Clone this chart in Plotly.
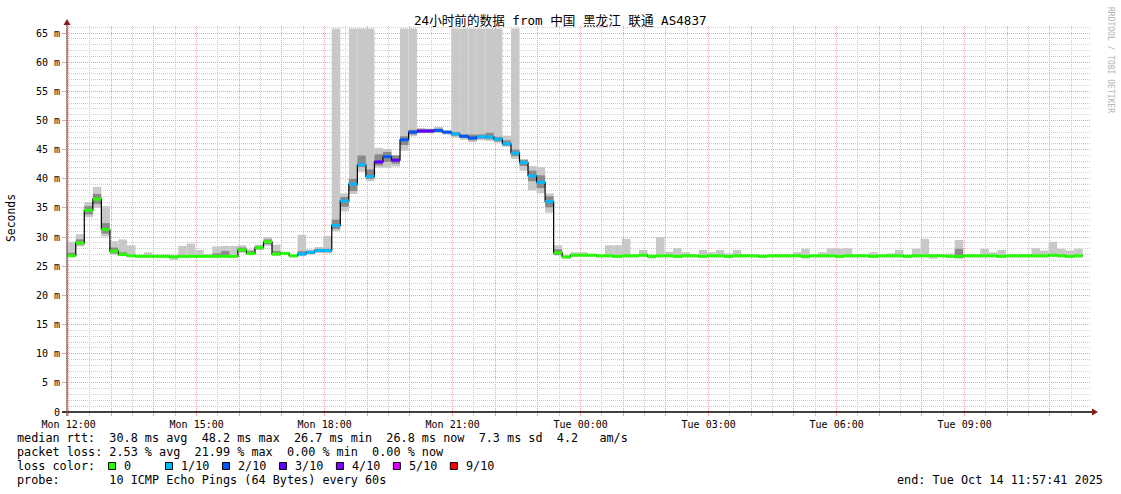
import pandas as pd
import plotly.graph_objects as go

# ---- data (12 min bins) ----
bin_start = pd.date_range("2025-10-13 11:58:00", periods=119, freq="12min")

median = [
    26.8, 29.0, 34.6, 36.5, 31.3, 27.6, 27.0, 26.8, 26.7, 26.7,
    26.7, 26.7, 26.6, 26.7, 26.7, 26.7, 26.7, 26.7, 26.7, 26.7,
    27.8, 27.2, 28.2, 29.2, 27.1, 27.2, 26.8, 27.1, 27.4, 27.7,
    27.7, 32.0, 36.2, 39.1, 42.4, 40.4, 42.9, 43.8, 43.2, 46.7,
    48.0, 48.2, 48.2, 48.3, 48.0, 47.7, 47.3, 47.0, 47.2, 47.2,
    46.8, 46.0, 44.4, 42.8, 40.5, 39.4, 36.1, 27.3, 26.6, 26.9,
    26.9, 26.9, 26.8, 26.8, 26.7, 26.8, 26.8, 26.9, 26.7, 26.8,
    26.8, 26.7, 26.8, 26.8, 26.7, 26.8, 26.8, 26.7, 26.8, 26.8,
    26.8, 26.7, 26.8, 26.8, 26.8, 26.8, 26.7, 26.8, 26.8, 26.8,
    26.7, 26.8, 26.8, 26.8, 26.7, 26.8, 26.8, 26.8, 26.7, 26.8,
    26.8, 26.8, 26.8, 26.7, 26.7, 26.8, 26.8, 26.8, 26.8, 26.7,
    26.8, 26.8, 26.8, 26.8, 26.8, 26.9, 26.8, 26.7, 26.8,
]

smoke_hi = [
    29.2, 30.5, 36.0, 38.6, 35.3, 29.3, 29.6, 28.6, 26.9, 27.4,
    27.0, 27.0, 27.0, 28.5, 28.9, 27.8, 27.1, 28.4, 28.5, 28.5,
    28.6, 27.9, 28.7, 30.0, 28.7, 27.5, 27.0, 30.4, 27.9, 28.3,
    30.2, 65.8, 37.5, 65.8, 65.8, 65.8, 45.3, 45.1, 44.1, 65.8,
    65.8, 48.7, 48.6, 48.9, 48.3, 65.8, 65.8, 65.8, 65.8, 65.8,
    65.8, 47.4, 65.8, 43.4, 42.2, 42.0, 37.5, 28.6, 26.9, 27.4,
    27.4, 27.1, 27.0, 28.6, 28.6, 29.7, 27.0, 27.8, 26.9, 30.0,
    27.5, 28.1, 27.4, 27.0, 27.8, 27.4, 27.8, 27.2, 27.8, 27.0,
    27.0, 27.0, 26.9, 27.0, 27.0, 27.4, 28.0, 27.0, 27.4, 28.1,
    28.0, 28.1, 27.0, 27.0, 27.4, 27.0, 27.2, 27.8, 27.0, 28.0,
    29.7, 27.0, 27.0, 27.2, 29.5, 26.9, 27.0, 28.0, 27.4, 27.8,
    27.0, 27.0, 27.1, 28.1, 27.7, 29.2, 28.0, 27.7, 28.0,
]

smoke_lo = [
    26.6, 28.4, 33.4, 35.0, 30.1, 27.0, 26.8, 26.6, 26.5, 26.5,
    26.5, 26.5, 26.1, 26.5, 26.5, 26.5, 26.5, 26.5, 26.5, 26.5,
    27.3, 26.9, 27.8, 28.5, 26.8, 26.9, 26.5, 26.7, 27.0, 27.3,
    27.2, 31.0, 34.4, 37.4, 41.2, 39.6, 41.9, 41.9, 42.1, 44.8,
    47.3, 47.8, 47.8, 47.9, 47.6, 47.1, 46.7, 46.3, 46.6, 46.5,
    46.2, 45.5, 43.4, 41.4, 38.0, 37.5, 34.2, 26.9, 26.3, 26.6,
    26.6, 26.6, 26.5, 26.5, 26.4, 26.5, 26.5, 26.6, 26.3, 26.5,
    26.5, 26.4, 26.5, 26.5, 26.4, 26.5, 26.5, 26.4, 26.5, 26.5,
    26.5, 26.4, 26.5, 26.5, 26.5, 26.5, 26.3, 26.5, 26.5, 26.5,
    26.4, 26.5, 26.5, 26.5, 26.4, 26.5, 26.5, 26.5, 26.4, 26.5,
    26.5, 26.3, 26.5, 26.4, 26.3, 26.5, 26.5, 26.5, 26.5, 26.4,
    26.5, 26.5, 26.5, 26.5, 26.5, 26.6, 26.5, 26.4, 26.5,
]

# darker smoke close to the median (None = not visible)
inner_hi = [
    27.3, 29.6, 35.3, 37.4, 32.4, 28.2, 27.4, None, None, None,
    None, None, None, None, None, None, None, 27.2, 27.6, None,
    28.2, 27.6, 28.5, 29.6, 27.6, None, None, 27.6, 27.6, 28.0,
    28.0, 33.0, 36.9, 40.0, 44.0, 41.6, 44.2, 44.6, 44.0, 47.3,
    48.4, 48.5, 48.5, 48.6, 48.2, 48.0, 47.6, 47.6, 47.6, 47.9,
    47.2, 46.6, 45.0, 43.2, 41.4, 40.6, 37.0, 27.9,
] + [None] * 46 + [28.0] + [None] * 14
inner_lo = [
    26.7, 28.7, 33.9, 35.7, 30.6, 27.2, 26.8, None, None, None,
    None, None, None, None, None, None, None, 26.7, 26.7, None,
    27.5, 27.0, 27.9, 28.8, 26.9, None, None, 26.9, 27.1, 27.4,
    27.4, 31.4, 35.2, 37.9, 42.0, 40.0, 42.3, 42.9, 42.6, 45.8,
    47.6, 47.9, 47.9, 48.0, 47.8, 47.4, 47.0, 46.6, 46.9, 46.8,
    46.4, 45.7, 43.9, 42.2, 39.6, 38.4, 35.1, 26.9,
] + [None] * 46 + [26.4] + [None] * 14

# packet loss per bin, in tenths
loss = [
    0, 0, 0, 0, 0, 0, 0, 0, 0, 0,
    0, 0, 0, 0, 0, 0, 0, 0, 0, 0,
    0, 0, 0, 0, 0, 0, 0, 1, 1, 1,
    1, 1, 1, 1, 1, 1, 3, 2, 3, 2,
    2, 3, 3, 2, 2, 1, 2, 2, 1, 1,
    1, 1, 1, 1, 1, 1, 1, 0, 0, 0,
    0, 0, 0, 0, 0, 0, 0, 0, 0, 0,
    0, 0, 0, 0, 0, 0, 0, 0, 0, 0,
    0, 0, 0, 0, 0, 0, 0, 0, 0, 0,
    0, 0, 0, 0, 0, 0, 0, 0, 0, 0,
    0, 0, 0, 0, 0, 0, 0, 0, 0, 0,
    0, 0, 0, 0, 0, 0, 0, 0, 0,
]

loss_levels = [0, 1, 2, 3, 4, 5, 9]
loss_labels = ["0", "1/10", "2/10", "3/10", "4/10", "5/10", "9/10"]
loss_colors = ["#26ff00", "#00b8ff", "#0059ff", "#5e00ff", "#7e00ff", "#dd00ff", "#ff0000"]

y_ticks = [0, 5, 10, 15, 20, 25, 30, 35, 40, 45, 50, 55, 60, 65]
x_labels = pd.date_range("2025-10-13 12:00", "2025-10-14 09:00", freq="3h")

legend_rows = [
    "median rtt:  30.8 ms avg  48.2 ms max  26.7 ms min  26.8 ms now  7.3 ms sd  4.2   am/s",
    "packet loss: 2.53 % avg  21.99 % max  0.00 % min  0.00 % now",
    "loss color:  ",
    "probe:       10 ICMP Echo Pings (64 Bytes) every 60s",
]
end_text = "end: Tue Oct 14 11:57:41 2025"
title = "24小时前的数据 from 中国 黑龙江 联通 AS4837"

# ---- layout helpers (pixel -> paper) ----
W, H = 1121, 494
PL, PR, PT, PB = 67, 1091, 26, 412
def px(x):
    return (x - PL) / (PR - PL)
def py(y):
    return (PB - y) / (PB - PT)

MONO = "DejaVu Sans Mono, Noto Sans CJK SC"
step = pd.Timedelta(minutes=12)
centers = bin_start + step / 2
edges = list(bin_start) + [bin_start[-1] + step]
x_range = [pd.Timestamp("2025-10-13 11:57:41"), pd.Timestamp("2025-10-14 11:57:41")]

fig = go.Figure()

# outer smoke
fig.add_trace(go.Bar(
    x=centers, base=smoke_lo, y=[h - l for h, l in zip(smoke_hi, smoke_lo)],
    width=step.total_seconds() * 1000, marker=dict(color="#c8c8c8", line_width=0),
    hoverinfo="skip"))
# inner smoke
fig.add_trace(go.Bar(
    x=centers, base=inner_lo,
    y=[None if h is None else h - l for h, l in zip(inner_hi, inner_lo)],
    width=step.total_seconds() * 1000, marker=dict(color="#8a8a8a", line_width=0),
    hoverinfo="skip"))
# median step line
fig.add_trace(go.Scatter(
    x=edges, y=median + [median[-1]], mode="lines", line_shape="hv",
    line=dict(color="#000000", width=1.2), hoverinfo="skip"))
# coloured median by loss
for lvl, col in zip(loss_levels, loss_colors):
    xs, ys = [], []
    for i, m in enumerate(median):
        if loss[i] == lvl:
            xs += [bin_start[i], bin_start[i] + step, None]
            ys += [m, m, None]
    if xs:
        fig.add_trace(go.Scatter(x=xs, y=ys, mode="lines",
                                 line=dict(color=col, width=3), hoverinfo="skip"))
# invisible trace so the label axis gets drawn
fig.add_trace(go.Scatter(x=x_range, y=[0, 0], xaxis="x2", mode="markers",
                         marker=dict(opacity=0), hoverinfo="skip"))

MAJ = "#f2a0a0"
MIN = "#cdcdcd"
fig.update_layout(
    width=W, height=H, showlegend=False, barmode="overlay",
    margin=dict(l=PL, r=W - PR, t=PT, b=H - PB, pad=0),
    paper_bgcolor="white", plot_bgcolor="white",
    font=dict(family=MONO, size=10, color="#000"),
    xaxis=dict(
        type="date", range=x_range,
        tickmode="linear", tick0="2025-10-13 12:00", dtick=3600000,
        showticklabels=False,
        showgrid=True, gridcolor=MAJ, griddash="1px,1px", gridwidth=1,
        ticks="outside", ticklen=3, tickcolor=MAJ,
        minor=dict(tickmode="linear", tick0="2025-10-13 12:00", dtick=1800000,
                   showgrid=True, gridcolor=MIN, griddash="1px,1px",
                   ticks="outside", ticklen=3, tickcolor=MIN),
        showline=False, zeroline=False,
    ),
    xaxis2=dict(
        type="date", range=x_range, overlaying="x", anchor="y", side="bottom",
        tickmode="array", tickvals=list(x_labels),
        ticktext=[t.strftime("%a %H:%M") for t in x_labels],
        showgrid=False, zeroline=False, showline=False, ticks="outside",
        ticklen=3, tickcolor="rgba(0,0,0,0)", tickfont=dict(size=10, family=MONO),
    ),
    yaxis=dict(
        range=[0, (PB - PT) / 5.83], tickmode="array", tickvals=y_ticks,
        ticktext=["0" if v == 0 else f"{v} m" for v in y_ticks],
        showgrid=True, gridcolor=MAJ, griddash="1px,1px", gridwidth=1,
        ticks="outside", ticklen=4, tickcolor=MAJ,
        minor=dict(tickmode="linear", tick0=0, dtick=1, showgrid=True,
                   gridcolor=MIN, griddash="1px,1px"),
        showline=False, zeroline=False, tickfont=dict(size=10, family=MONO),
    ),
)

# axes with arrows
fig.add_shape(type="line", xref="paper", yref="paper", x0=px(62), x1=px(1094),
              y0=py(412), y1=py(412), line=dict(color="#000000", width=1.3))
fig.add_shape(type="line", xref="paper", yref="paper", x0=px(67), x1=px(67),
              y0=py(416), y1=py(23), line=dict(color="#6a4848", width=1.2))
fig.add_shape(type="path", xref="paper", yref="paper", fillcolor="#8b1a1a", line_width=0,
              path=f"M {px(1092)} {py(408.5)} L {px(1098)} {py(412)} L {px(1092)} {py(415.5)} Z")
fig.add_shape(type="path", xref="paper", yref="paper", fillcolor="#8b1a1a", line_width=0,
              path=f"M {px(63.5)} {py(25)} L {px(67)} {py(19)} L {px(70.5)} {py(25)} Z")

def note(text, x, y, size=11.8, xanchor="left", color="#000", angle=0):
    fig.add_annotation(text=text.replace(" ", "\u00a0"), x=px(x), y=py(y), xref="paper",
                       yref="paper", showarrow=False, xanchor=xanchor, yanchor="middle",
                       textangle=angle, font=dict(family=MONO, size=size, color=color))

note(title, 560.5, 21, size=12.6, xanchor="center")
note("Seconds", 11, 218, size=11.4, xanchor="center", angle=-90)
note("RRDTOOL / TOBI OETIKER", 1110, 60, size=8, xanchor="center", color="#b4b4b4", angle=90)

CW = 7.12  # legend character width in pixels
for i, row in enumerate(legend_rows):
    note(row, 15, 438 + 14 * i)
note(end_text, 1105, 480, xanchor="right")

# loss colour boxes and labels
for k, (lab, col) in enumerate(zip(loss_labels, loss_colors)):
    c = 13 + 8 * k
    x0 = 16 + c * CW
    fig.add_shape(type="rect", xref="paper", yref="paper", x0=px(x0), x1=px(x0 + 7),
                  y0=py(462.5), y1=py(469.5), fillcolor=col, line=dict(color="#000", width=1))
    note(lab, 15 + (c + 2) * CW, 466)

fig.write_html("out.html", config={"displayModeBar": False},
               post_script="document.body.style.margin='0px';")
